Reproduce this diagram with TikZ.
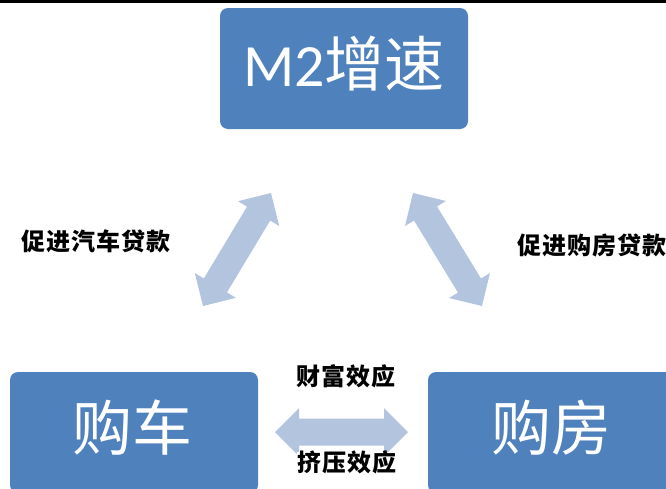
\documentclass[tikz,border=0pt]{standalone}
\usepackage{fontspec}
\newfontfamily\cjk{Noto Sans CJK SC}
\newfontfamily\cjksp[LetterSpace=5]{Noto Sans CJK SC}
\newfontfamily\carl{Carlito}
\usetikzlibrary{calc}
\definecolor{boxblue}{RGB}{79,129,189}
\definecolor{arrowblue}{RGB}{179,196,223}
\tikzset{
  bigbox/.style={fill=boxblue, rounded corners=8pt, inner sep=0pt, minimum width=248pt, minimum height=121pt},
  bigtext/.style={text=white, font=\cjk\fontsize{60}{60}\selectfont, inner sep=0pt},
  lbl/.style={font=\cjksp\bfseries\fontsize{24}{24}\selectfont, text=black, inner sep=0pt},
  arrowfill/.style={fill=arrowblue},
}
\newcommand\blockarrow[2]{%
  \fill[arrowfill] (#1)
   -- ($(#1)!24pt!(#2)!24pt!90:(#2)$)
   -- ($(#1)!24pt!(#2)!13.5pt!90:(#2)$)
   -- ($(#2)!24pt!(#1)!13.5pt!-90:(#1)$)
   -- ($(#2)!24pt!(#1)!24pt!-90:(#1)$)
   -- (#2)
   -- ($(#2)!24pt!(#1)!24pt!90:(#1)$)
   -- ($(#2)!24pt!(#1)!13.5pt!90:(#1)$)
   -- ($(#1)!24pt!(#2)!13.5pt!-90:(#2)$)
   -- ($(#1)!24pt!(#2)!24pt!-90:(#2)$)
   -- cycle;}
\begin{document}
\begin{tikzpicture}[x=1pt,y=-1pt]
\useasboundingbox (0,0) rectangle (666,488);
\clip (0,0) rectangle (666,488);
\fill[black] (0,0) rectangle (666,2.5);
% boxes
\node[bigbox] (m2) at (344,68.5) {};
\node[bigbox] (car) at (134,432.5) {};
\node[bigbox] (house) at (552,432.5) {};
\node[bigtext] (m2t) at (344,64) {{\carl M2}增速};
\node[bigtext] (cart) at (132,428) {购车};
\node[bigtext] (houset) at (551,428) {购房};
% arrows
\coordinate (hl) at (275,432);
\coordinate (hr) at (408,432);
\coordinate (ll) at (203,306);
\coordinate (lu) at (271,193);
\coordinate (ru) at (413,193);
\coordinate (rl) at (482,306);
\blockarrow{hl}{hr}
\blockarrow{ll}{lu}
\blockarrow{ru}{rl}
% labels
\node[lbl] (lcar) at (96,241) {促进汽车贷款};
\node[lbl] (lhouse) at (592,245) {促进购房贷款};
\node[lbl] (wealth) at (346,376) {财富效应};
\node[lbl, fill=white, text height=20pt, text depth=3pt] (squeeze) at (347,463) {挤压效应};
\end{tikzpicture}
\end{document}
